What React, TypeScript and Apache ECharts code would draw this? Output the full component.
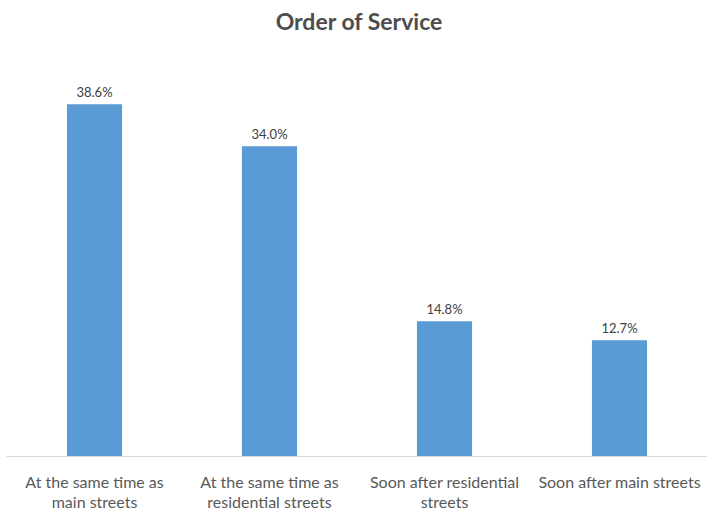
import React, { useEffect, useRef } from "react";
import * as echarts from "echarts";

const titleText = "Order of Service";
const categories = [
  "At the same time as\nmain streets",
  "At the same time as\nresidential streets",
  "Soon after residential\nstreets",
  "Soon after main streets",
];
const values = [38.6, 34.0, 14.8, 12.7];

export default function App() {
  const ref = useRef<HTMLDivElement>(null);
  useEffect(() => {
    document.body.style.margin = "0";
    const chart = echarts.init(ref.current!, null, { renderer: "svg" });
    chart.setOption({
      animation: false,
      backgroundColor: "#ffffff",
      textStyle: { fontFamily: "Lato" },
      title: {
        text: titleText,
        left: 354,
        textAlign: "center",
        top: 4,
        textStyle: { fontFamily: "Lato", fontSize: 23, fontWeight: "bold", color: "#4d4d4d" },
      },
      grid: { left: 7, width: 706, top: 46, bottom: 51, containLabel: false },
      xAxis: {
        type: "category",
        data: categories,
        axisLine: { lineStyle: { color: "#d9d9d9", width: 1 } },
        axisTick: { show: false },
        axisLabel: {
          interval: 0,
          color: "#595959",
          fontSize: 16,
          lineHeight: 20,
          margin: 15,
          fontFamily: "Lato",
        },
      },
      yAxis: {
        type: "value",
        min: 0,
        max: 45,
        show: false,
        splitLine: { show: false },
      },
      series: [
        {
          type: "bar",
          data: values,
          barWidth: "31.5%",
          itemStyle: { color: "#5b9bd5" },
          label: {
            show: true,
            position: "top",
            distance: 6,
            color: "#404040",
            fontSize: 13,
            fontFamily: "Lato",
            formatter: (p: any) => p.value.toFixed(1) + "%",
          },
        },
      ],
    });
    return () => chart.dispose();
  }, []);
  return <div ref={ref} style={{ width: 707, height: 511 }} />;
}
